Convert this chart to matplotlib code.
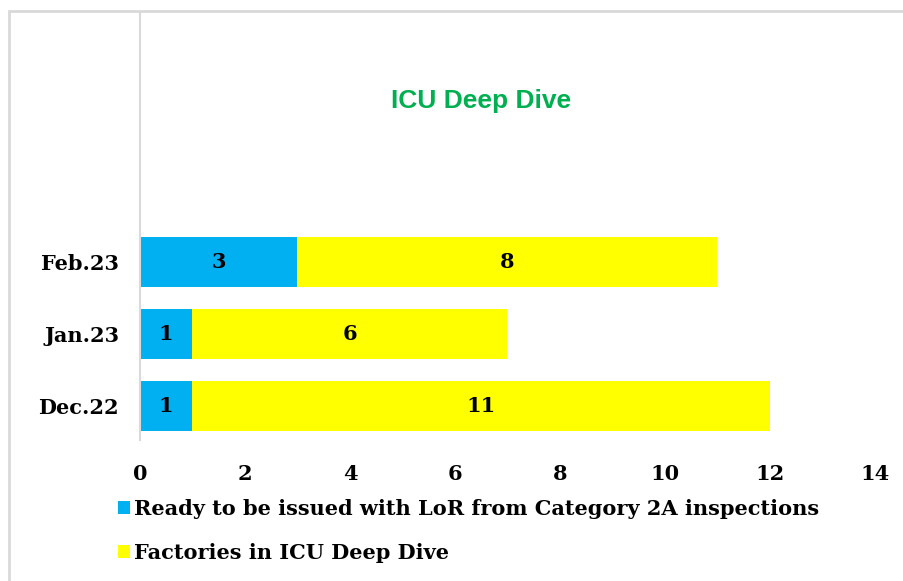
import matplotlib.pyplot as plt
from matplotlib.patches import Rectangle

months = ['Dec.22', 'Jan.23', 'Feb.23']
ready_lor = [1, 1, 3]
icu_factories = [11, 6, 8]
series_names = ['Ready to be issued with LoR from Category 2A inspections',
                'Factories in ICU Deep Dive']
x_ticks = [0, 2, 4, 6, 8, 10, 12, 14]

BLUE = '#00B0F0'
YELLOW = '#FFFF00'
GREEN = '#00B050'
label_font = dict(family='DejaVu Serif', weight='bold')

fig = plt.figure(figsize=(9.04, 5.81), dpi=100)
ax = fig.add_axes([140 / 904, 1 - 440 / 581, 735 / 904, 428 / 581])

# chart frame (runs off the right/bottom edge like the source)
fig.patches.append(Rectangle((8.5 / 904, -0.1), 1.2, 1 - 10.5 / 581 + 0.1,
                             transform=fig.transFigure, fill=False,
                             edgecolor='#d9d9d9', linewidth=2))

ypos = list(range(len(months)))
b1 = ax.barh(ypos, ready_lor, height=0.69, color=BLUE, label=series_names[0])
b2 = ax.barh(ypos, icu_factories, left=ready_lor, height=0.69, color=YELLOW,
             label=series_names[1])
ax.bar_label(b1, label_type='center', fontsize=15, **label_font)
ax.bar_label(b2, label_type='center', fontsize=15, **label_font)

ax.set_xlim(0, 14)
ax.set_ylim(-0.47, 5.47)
ax.set_xticks(x_ticks)
ax.set_yticks(ypos)
ax.set_yticklabels(months)
for lab in ax.get_xticklabels() + ax.get_yticklabels():
    lab.set_fontfamily('DejaVu Serif')
    lab.set_fontweight('bold')
    lab.set_fontsize(15)
ax.tick_params(axis='both', length=0)
ax.tick_params(axis='x', pad=17)
ax.tick_params(axis='y', pad=15)
for side in ['top', 'right', 'bottom']:
    ax.spines[side].set_visible(False)
ax.spines['left'].set_color('#d9d9d9')
ax.spines['left'].set_linewidth(1.5)

fig.text(481 / 904, 1 - 101 / 581, 'ICU Deep Dive', color=GREEN,
         fontsize=19, fontweight='bold', family='Liberation Sans',
         ha='center', va='center')

fig.legend(handles=[b1, b2], loc='upper left',
           bbox_to_anchor=(99 / 904, 1 - 480 / 581), frameon=False,
           prop=dict(family='DejaVu Serif', weight='bold', size=15),
           handlelength=0.6, handleheight=0.6, handletextpad=0.2,
           labelspacing=1.15)

fig.savefig('out.png', dpi=100)
